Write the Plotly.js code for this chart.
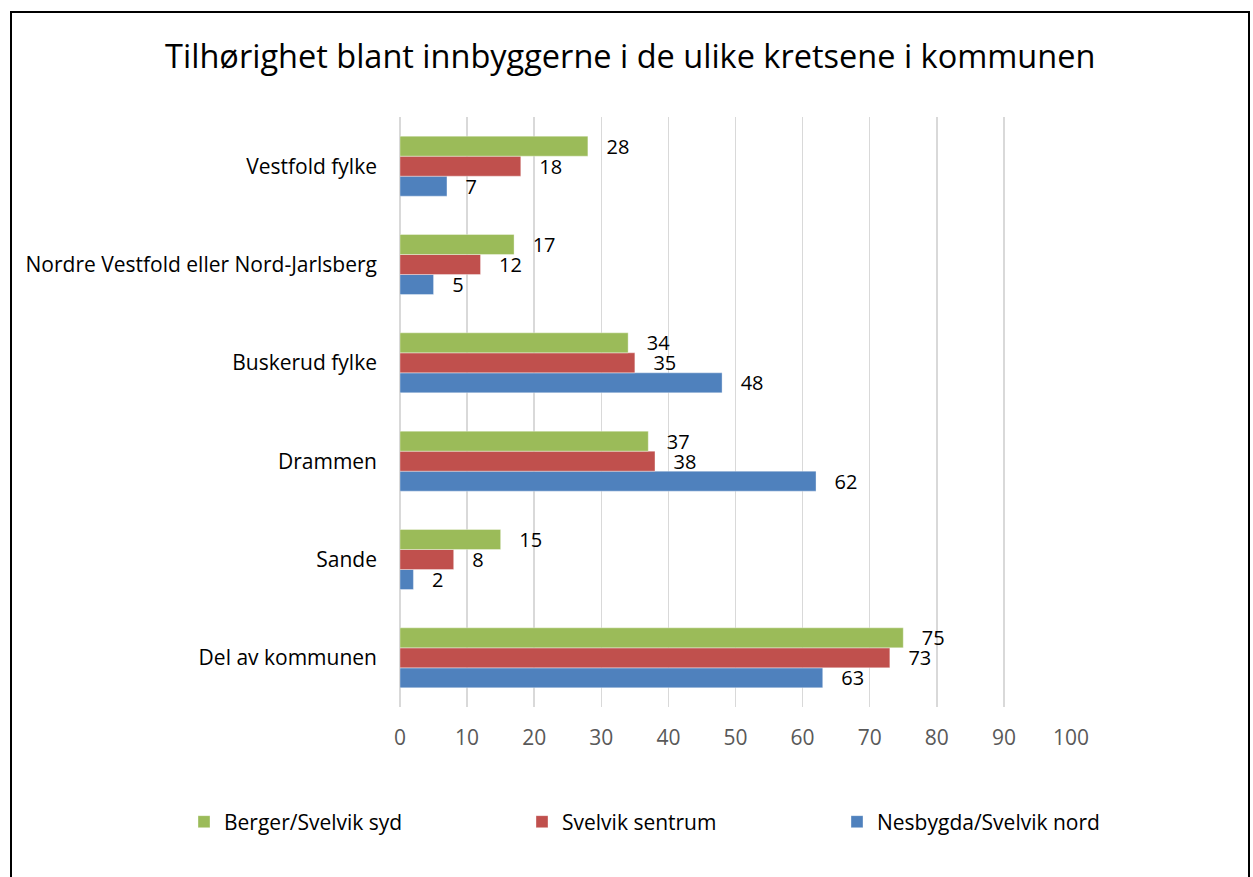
<!DOCTYPE html>
<html>
<head>
<meta charset="utf-8">
<script src="https://cdn.plot.ly/plotly-3.0.1.min.js"></script>
<style>
  html, body { margin: 0; padding: 0; background: #fff; }
  #chart { position: absolute; left: 0; top: 0; width: 1253px; height: 877px; }
  #frame { position: absolute; left: 10px; top: 11px; width: 1236px; height: 900px;
           border: 2px solid #000; pointer-events: none; }
</style>
</head>
<body>
<div id="chart"></div>
<div id="frame"></div>
<script>
// Categories listed from bottom to top of the chart
const categories = ["Del av kommunen", "Sande", "Drammen", "Buskerud fylke",
                    "Nordre Vestfold eller Nord-Jarlsberg", "Vestfold fylke"];
const seriesNames = ["Nesbygda/Svelvik nord", "Svelvik sentrum", "Berger/Svelvik syd"];
const nesbygda = [63, 2, 62, 48, 5, 7];
const sentrum  = [73, 8, 38, 35, 12, 18];
const berger   = [75, 15, 37, 34, 17, 28];
const colors = ["#4F81BD", "#C0504D", "#9BBB59"];
const xTicks = [0, 10, 20, 30, 40, 50, 60, 70, 80, 90, 100];

const values = [nesbygda, sentrum, berger];
const legendIds = ["legend3", "legend2", "legend"];
const pad = "\u00a0\u00a0\u00a0";

const traces = values.map((v, i) => ({
  type: "bar",
  orientation: "h",
  name: seriesNames[i],
  y: categories,
  x: v,
  text: v.map(n => pad + n),
  textposition: "outside",
  constraintext: "none",
  cliponaxis: false,
  textfont: { family: "Open Sans, sans-serif", size: 20, color: "#000" },
  marker: { color: colors[i], line: { color: "rgba(255,255,255,0.6)", width: 0.6 } },
  legend: legendIds[i],
  hoverinfo: "x+name"
}));

const legendBase = {
  orientation: "h",
  xref: "container", yref: "container",
  yanchor: "middle", y: 1 - 822 / 877,
  font: { family: "Open Sans, sans-serif", size: 21, color: "#000" },
  bgcolor: "rgba(0,0,0,0)"
};

const layout = {
  width: 1253, height: 877,
  paper_bgcolor: "#fff", plot_bgcolor: "#fff",
  margin: { l: 400, r: 182, t: 117, b: 170 },
  title: {
    text: "Tilhørighet blant innbyggerne i de ulike kretsene i kommunen",
    font: { family: "Open Sans, sans-serif", size: 32.5, color: "#000" },
    x: 0.503, xanchor: "center", y: 1 - 57 / 877, yanchor: "middle", yref: "container"
  },
  barmode: "group",
  bargap: 0.39,
  bargroupgap: 0,
  xaxis: {
    range: [0, 100],
    tickvals: xTicks,
    ticktext: xTicks.map(String),
    showgrid: true, gridcolor: "#D9D9D9", gridwidth: 1.5,
    zeroline: true, zerolinecolor: "#D9D9D9", zerolinewidth: 1.5,
    showline: false, ticks: "",
    ticklabelstandoff: 16,
    tickfont: { family: "Open Sans, sans-serif", size: 21, color: "#595959" },
    fixedrange: true
  },
  yaxis: {
    type: "category",
    categoryorder: "array", categoryarray: categories,
    showgrid: false, zeroline: false, showline: false, ticks: "",
    ticklabelstandoff: 22,
    tickfont: { family: "Open Sans, sans-serif", size: 21, color: "#000" },
    fixedrange: true
  },
  legend:  Object.assign({}, legendBase, { x: 184 / 1253 }),
  legend2: Object.assign({}, legendBase, { x: 522 / 1253 }),
  legend3: Object.assign({}, legendBase, { x: 837 / 1253 }),
  showlegend: true
};

Plotly.newPlot("chart", traces, layout, { displayModeBar: false, staticPlot: true });
</script>
</body>
</html>
